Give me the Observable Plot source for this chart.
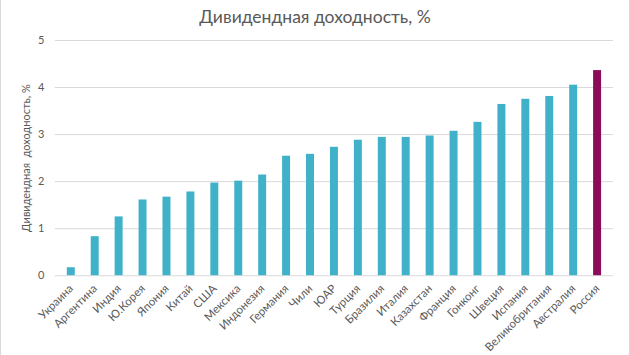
<!DOCTYPE html>
<html>
<head>
<meta charset="utf-8">
<script src="https://cdn.jsdelivr.net/npm/d3@7"></script>
<script src="https://cdn.jsdelivr.net/npm/@observablehq/plot@0.6"></script>
<style>
  html, body { margin: 0; padding: 0; background: #fff; }
  #chart { width: 630px; height: 355px; box-sizing: border-box; border-left: 1px solid #d9d9d9; border-right: 1px solid #d9d9d9; position: relative; overflow: hidden; font-family: Lato, "Open Sans", sans-serif; }
  #title { height: 32px; line-height: 34px; text-align: center; font-size: 17.5px; color: #595959; }
</style>
</head>
<body>
<div id="chart"><div id="title">Дивидендная доходность, %</div></div>
<script>
const countries = ["Украина","Аргентина","Индия","Ю.Корея","Япония","Китай","США","Мексика","Индонезия","Германия","Чили","ЮАР","Турция","Бразилия","Италия","Казахстан","Франция","Гонконг","Швеция","Испания","Великобритания","Австралия","Россия"];
const yields = [0.17,0.83,1.25,1.61,1.67,1.78,1.97,2.01,2.14,2.54,2.58,2.73,2.88,2.94,2.94,2.97,3.07,3.26,3.64,3.75,3.81,4.05,4.36];
const highlight = "Россия";
const yTicks = [0,1,2,3,4,5];

const data = countries.map((c, i) => ({country: c, value: yields[i]}));

const plot = Plot.plot({
  width: 630,
  height: 323,
  marginTop: 8,
  marginBottom: 79,
  marginLeft: 54,
  marginRight: 16,
  style: {fontFamily: "Lato, 'Open Sans', sans-serif", fontSize: "12px", color: "#595959", background: "transparent"},
  x: {domain: countries, paddingInner: 0.67, paddingOuter: 0.335, label: null},
  y: {domain: [0, 5], label: null},
  marks: [
    Plot.gridY(yTicks, {stroke: "#d9d9d9", strokeOpacity: 1}),
    Plot.barY(data, {x: "country", y: "value", fill: d => d.country === highlight ? "#8c0a5a" : "#3fb1c8"}),
    Plot.axisY(yTicks, {tickSize: 0, tickPadding: 11, fill: "#595959", fontSize: 11, label: "Дивидендная  доходность, %", labelAnchor: "center", labelArrow: "none", labelOffset: 33}),
    Plot.axisX({tickSize: 0, tickPadding: 11, tickRotate: -45, fill: "#595959", fontSize: 11.5, label: null})
  ]
});
document.getElementById("chart").appendChild(plot);
</script>
</body>
</html>
